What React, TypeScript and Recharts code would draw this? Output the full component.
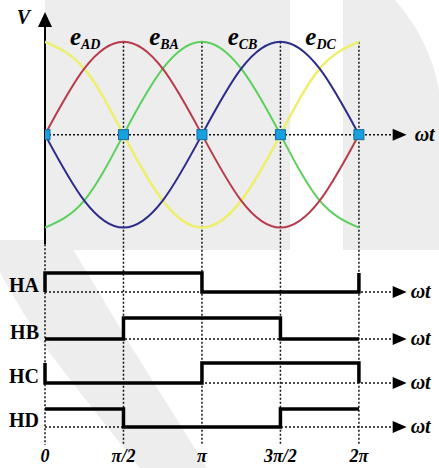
import { ComposedChart, Line, LineChart, ReferenceDot, ReferenceLine, Scatter, XAxis, YAxis } from 'recharts'

// phase in units of π/2, sampled every π/4
const phases = [0, 0.5, 1, 1.5, 2, 2.5, 3, 3.5, 4]
const eAD = [0, 0.71, 1, 0.71, 0, -0.71, -1, -0.71, 0]
const eBA = [-1, -0.71, 0, 0.71, 1, 0.71, 0, -0.71, -1]
const eCB = [0, -0.71, -1, -0.71, 0, 0.71, 1, 0.71, 0]
const eDC = [1, 0.71, 0, -0.71, -1, -0.71, 0, 0.71, 1]

const tickValues = [0, 1, 2, 3, 4]
const tickLabels = ['0', 'π/2', 'π', '3π/2', '2π']
const zeroCrossings = [0, 1, 2, 3, 4]

// hall sensor output for each quarter period
const hallNames = ['HA', 'HB', 'HC', 'HD']
const hallA = [1, 1, 0, 0]
const hallB = [0, 1, 1, 0]
const hallC = [0, 0, 1, 1]
const hallD = [1, 0, 0, 1]

const W = 439
const H = 468
const LEFT = 45
const RIGHT = 33
const X_MAX = 4.6
const Y_TOP = 1.32
const Y_BOTTOM = -3.34
const ARROW_AT = 4.43
const SERIF = { fontFamily: '"Times New Roman", "Liberation Serif", "DejaVu Serif", serif' }
const DOTS = '2 2'
const INK = '#111'

const emfData = phases.map((phase, i) => ({
    phase,
    eAD: eAD[i],
    eBA: eBA[i],
    eCB: eCB[i],
    eDC: eDC[i],
}))

const markerData = zeroCrossings.map((phase) => ({ phase, level: 0 }))

// drawing order: yellow underneath, blue on top
const emfSeries = [
    { key: 'eDC', sub: 'DC', color: '#eeee70', width: 2.6, peak: 4 },
    { key: 'eBA', sub: 'BA', color: '#5ccf5c', width: 2, peak: 2 },
    { key: 'eAD', sub: 'AD', color: '#b63c4c', width: 2, peak: 1 },
    { key: 'eCB', sub: 'CB', color: '#2c2c8a', width: 2, peak: 3 },
]

const hallRows = [
    { name: hallNames[0], states: hallA, top: 273, base: 292 },
    { name: hallNames[1], states: hallB, top: 318, base: 339 },
    { name: hallNames[2], states: hallC, top: 363, base: 383 },
    { name: hallNames[3], states: hallD, top: 409, base: 427 },
]

// wrap the period so edges at 0 and 2π show up like in a continuous signal
function stepPoints(states: number[]) {
    const n = states.length
    const pts = [{ phase: 0, level: states[n - 1] }]
    states.forEach((s, i) => pts.push({ phase: i, level: s }))
    pts.push({ phase: n, level: states[n - 1] })
    pts.push({ phase: n, level: states[0] })
    return pts
}

function axisArrow(gap: number) {
    return (p: any) => (
        <g>
            <polygon
                points={`${p.cx},${p.cy - 6} ${p.cx + 14},${p.cy} ${p.cx},${p.cy + 6}`}
                fill="#000"
            />
            <text
                x={p.cx + gap}
                y={p.cy + 6}
                style={SERIF}
                fontWeight="bold"
                fontStyle="italic"
                fontSize={20}
                fill="#000"
            >
                ωt
            </text>
        </g>
    )
}

function SquareMarker(p: any) {
    return <rect x={p.cx - 5} y={p.cy - 5} width={10} height={10} fill="#16a0e0" stroke="#1a6c9c" strokeWidth={1} />
}

function PhaseTick(p: any) {
    const idx = tickValues.indexOf(p.payload.value)
    return (
        <text
            x={p.x}
            y={p.y}
            dy={9}
            textAnchor="middle"
            style={SERIF}
            fontWeight="bold"
            fontStyle="italic"
            fontSize={18}
            fill="#000"
        >
            {tickLabels[idx]}
        </text>
    )
}

// faint backdrop shapes behind the plot
function Backdrop() {
    const shade = '#ededed'
    return (
        <svg width={W} height={H} style={{ position: 'absolute', left: 0, top: 0 }}>
            <rect x={45} y={0} width={245} height={250} fill={shade} />
            <path d="M343,0 L395,0 Q430,40 439,90 L439,250 L343,250 Z" fill={shade} />
            <path d="M0,240 L67,240 Q95,285 127,340 Q165,400 207,468 L140,468 Q85,400 40,340 Q15,300 0,272 Z" fill={shade} />
        </svg>
    )
}

function HallRow({ name, states, top, base }: { name: string, states: number[], top: number, base: number }) {
    const pad = 10
    return (
        <div style={{ position: 'absolute', left: 0, top: top - pad }}>
            <LineChart
                width={W}
                height={base - top + pad * 2}
                data={stepPoints(states)}
                margin={{ top: pad, right: RIGHT, left: LEFT, bottom: pad }}
            >
                <XAxis type="number" dataKey="phase" domain={[0, X_MAX]} hide />
                <YAxis type="number" domain={[0, 1]} hide />
                <ReferenceLine
                    segment={[{ x: 0, y: 0 }, { x: ARROW_AT, y: 0 }]}
                    stroke={INK}
                    strokeWidth={1.5}
                    strokeDasharray={DOTS}
                />
                <ReferenceDot x={ARROW_AT} y={0} shape={axisArrow(18)} />
                <ReferenceDot
                    x={0}
                    y={0}
                    shape={(p: any) => (
                        <text
                            x={p.cx - 6}
                            y={p.cy}
                            textAnchor="end"
                            style={SERIF}
                            fontWeight="bold"
                            fontSize={20}
                            fill="#000"
                        >
                            {name}
                        </text>
                    )}
                />
                <Line
                    type="stepAfter"
                    dataKey="level"
                    stroke="#000"
                    strokeWidth={3.5}
                    dot={false}
                    isAnimationActive={false}
                />
            </LineChart>
        </div>
    )
}

export default function App() {
    return (
        <div style={{ position: 'absolute', left: 0, top: 0, width: W, height: H, background: '#fff' }}>
            <Backdrop />
            <div style={{ position: 'absolute', left: 0, top: 0 }}>
                <ComposedChart
                    width={W}
                    height={H}
                    data={emfData}
                    margin={{ top: 12, right: RIGHT, left: LEFT, bottom: 0 }}
                >
                    <XAxis
                        type="number"
                        dataKey="phase"
                        domain={[0, X_MAX]}
                        ticks={tickValues}
                        tick={PhaseTick}
                        axisLine={false}
                        tickLine={false}
                        height={23}
                        allowDataOverflow
                    />
                    <YAxis type="number" domain={[Y_BOTTOM, Y_TOP]} hide allowDataOverflow />

                    {/* V axis: solid part with arrow, dotted below */}
                    <ReferenceLine
                        segment={[{ x: 0, y: Y_TOP - 0.1 }, { x: 0, y: -1.18 }]}
                        stroke="#000"
                        strokeWidth={2}
                    />
                    <ReferenceLine
                        segment={[{ x: 0, y: -1.18 }, { x: 0, y: Y_BOTTOM }]}
                        stroke={INK}
                        strokeWidth={1.5}
                        strokeDasharray={DOTS}
                    />
                    {tickValues.slice(1).map((t) => (
                        <ReferenceLine
                            key={t}
                            segment={[{ x: t, y: 1 }, { x: t, y: Y_BOTTOM }]}
                            stroke={INK}
                            strokeWidth={1.5}
                            strokeDasharray={DOTS}
                        />
                    ))}
                    <ReferenceLine
                        segment={[{ x: 0, y: 0 }, { x: ARROW_AT, y: 0 }]}
                        stroke={INK}
                        strokeWidth={1.5}
                        strokeDasharray={DOTS}
                    />
                    <ReferenceDot x={ARROW_AT} y={0} shape={axisArrow(22)} />
                    <ReferenceDot
                        x={0}
                        y={Y_TOP}
                        shape={(p: any) => (
                            <g>
                                <polygon
                                    points={`${p.cx},${p.cy} ${p.cx + 7},${p.cy + 15} ${p.cx - 7},${p.cy + 15}`}
                                    fill="#000"
                                />
                                <text
                                    x={p.cx - 15}
                                    y={p.cy + 12}
                                    textAnchor="end"
                                    style={SERIF}
                                    fontWeight="bold"
                                    fontStyle="italic"
                                    fontSize={20}
                                    fill="#000"
                                >
                                    V
                                </text>
                            </g>
                        )}
                    />

                    {emfSeries.map((s) => (
                        <Line
                            key={s.key}
                            type="natural"
                            dataKey={s.key}
                            stroke={s.color}
                            strokeWidth={s.width}
                            dot={false}
                            isAnimationActive={false}
                        />
                    ))}
                    {emfSeries.map((s) => (
                        <ReferenceDot
                            key={`lbl-${s.key}`}
                            x={s.peak}
                            y={1}
                            shape={(p: any) => (
                                <text
                                    x={p.cx - 23}
                                    y={p.cy + 3}
                                    textAnchor="end"
                                    style={SERIF}
                                    fontWeight="bold"
                                    fontStyle="italic"
                                    fill="#000"
                                >
                                    <tspan fontSize={25}>e</tspan>
                                    <tspan fontSize={14} dy={4}>{s.sub}</tspan>
                                </text>
                            )}
                        />
                    ))}
                    <Scatter data={markerData} dataKey="level" shape={SquareMarker} isAnimationActive={false} />
                </ComposedChart>
            </div>
            {hallRows.map((r) => (
                <HallRow key={r.name} name={r.name} states={r.states} top={r.top} base={r.base} />
            ))}
        </div>
    )
}
